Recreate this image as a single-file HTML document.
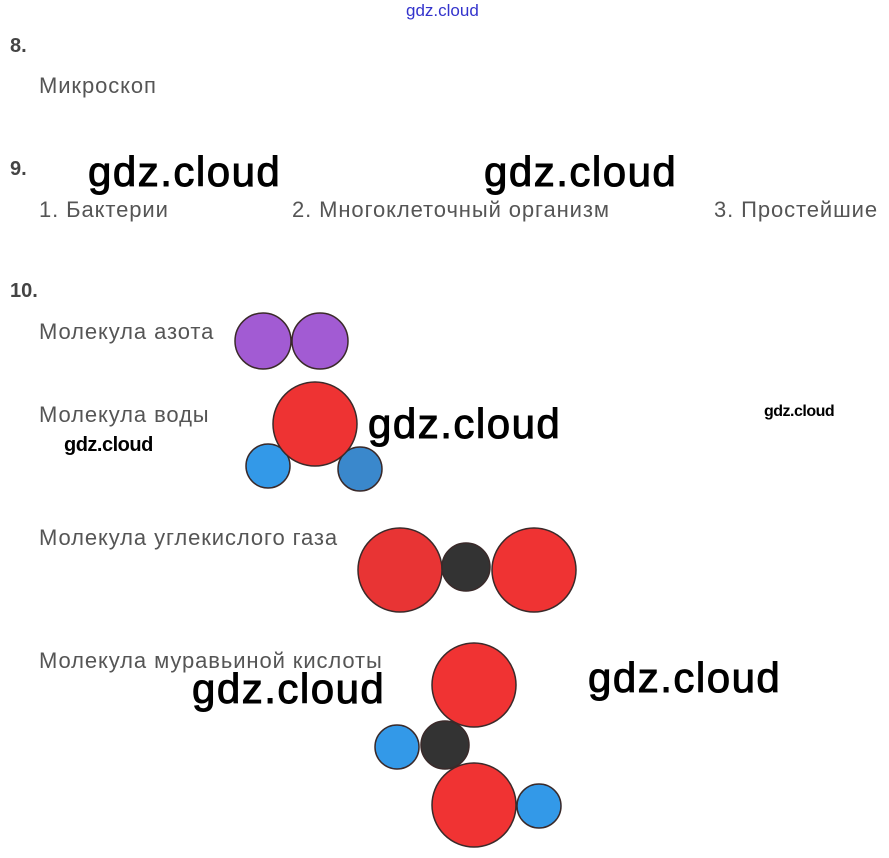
<!DOCTYPE html>
<html><head><meta charset="utf-8"><style>
body{margin:0;width:889px;height:858px;background:#fff;position:relative;overflow:hidden;font-family:"Liberation Sans",sans-serif}
.t{position:absolute;color:#555;font-size:22px;letter-spacing:0.9px;white-space:nowrap}
.h{position:absolute;color:#444;font-size:20px;font-weight:bold}
.w{position:absolute;color:#000;font-size:42px;white-space:nowrap;letter-spacing:1.5px;-webkit-text-stroke:1px #000}
</style></head><body>
<div style="position:absolute;left:406px;top:1px;font-size:17px;color:#33c;">gdz.cloud</div>
<div class="h" style="left:10px;top:35px">8.</div>
<div class="t" style="left:39px;top:73px">Микроскоп</div>
<div class="h" style="left:10px;top:158px">9.</div>
<div class="t" style="left:39px;top:197px">1. Бактерии</div>
<div class="t" style="left:292px;top:197px">2. Многоклеточный организм</div>
<div class="t" style="left:714px;top:197px">3. Простейшие</div>
<div class="h" style="left:10px;top:280px">10.</div>
<div class="t" style="left:39px;top:319px">Молекула азота</div>
<div class="t" style="left:39px;top:402px">Молекула воды</div>
<div class="t" style="left:39px;top:525px">Молекула углекислого газа</div>
<div class="t" style="left:39px;top:648px">Молекула муравьиной кислоты</div>
<svg width="889" height="858" style="position:absolute;left:0;top:0" stroke="#3a2a2a" stroke-width="1.5">
<circle cx="263" cy="341" r="28" fill="#a25bd3"/>
<circle cx="320" cy="341" r="28" fill="#a25bd3"/>
<circle cx="268" cy="466" r="22" fill="#3399e8"/>
<circle cx="360" cy="469" r="22" fill="#3a88cc"/>
<circle cx="315" cy="424" r="42" fill="#ee3333"/>
<circle cx="400" cy="570" r="42" fill="#e83434"/>
<circle cx="534" cy="570" r="42" fill="#ef3333"/>
<circle cx="466" cy="567" r="24" fill="#333"/>
<circle cx="474" cy="685" r="42" fill="#f03333"/>
<circle cx="397" cy="747" r="22" fill="#3399e8"/>
<circle cx="445" cy="745" r="24" fill="#333"/>
<circle cx="474" cy="805" r="42" fill="#f03333"/>
<circle cx="539" cy="806" r="22" fill="#3399e8"/>
</svg>
<div class="w" style="left:88px;top:148px">gdz.cloud</div>
<div class="w" style="left:484px;top:148px">gdz.cloud</div>
<div class="w" style="left:368px;top:400px">gdz.cloud</div>
<div class="w" style="left:192px;top:665px">gdz.cloud</div>
<div class="w" style="left:588px;top:654px">gdz.cloud</div>
<div style="position:absolute;left:64px;top:434px;font-size:20px;font-weight:bold;letter-spacing:-0.5px">gdz.cloud</div>
<div style="position:absolute;left:764px;top:403px;font-size:16px;font-weight:bold;letter-spacing:-0.5px">gdz.cloud</div>
</body></html>
